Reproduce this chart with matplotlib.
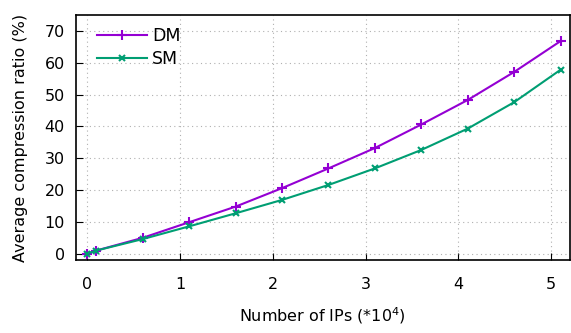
import matplotlib
matplotlib.use("Agg")
import matplotlib.pyplot as plt

# number of IPs (*10^4)
num_ips = [0, 0.1, 0.6, 1.1, 1.6, 2.1, 2.6, 3.1, 3.6, 4.1, 4.6, 5.1]
# average compression ratio (%)
dm_ratio = [0, 1, 5, 9.9, 14.8, 20.6, 26.8, 33.2, 40.6, 48.3, 57.1, 66.8]
sm_ratio = [0, 1, 4.6, 8.6, 12.7, 16.9, 21.6, 26.8, 32.6, 39.3, 47.6, 57.8]

xticks = [0, 1, 2, 3, 4, 5]
yticks = [0, 10, 20, 30, 40, 50, 60, 70]

plt.rcParams['font.size'] = 11.5

fig = plt.figure(figsize=(5.71, 3.33), dpi=100)
ax = fig.add_axes([0.133, 0.219, 0.865, 0.736])

ax.plot(num_ips, dm_ratio, color='#9400d3', marker='+', markersize=7,
        markeredgewidth=1.5, linewidth=1.5, label='DM')
ax.plot(num_ips, sm_ratio, color='#009e73', marker='x', markersize=5,
        markeredgewidth=1.5, linewidth=1.5, label='SM')

ax.set_xlim(-0.12, 5.2)
ax.set_ylim(-2, 75)
ax.set_xticks(xticks)
ax.set_yticks(yticks)
ax.tick_params(direction='in', length=5, top=False, right=False)
ax.tick_params(axis='x', pad=12)
ax.tick_params(axis='y', pad=8)
ax.grid(True, color='#b0b0b0', linestyle=(0, (1, 3)), linewidth=0.8)
for s in ax.spines.values():
    s.set_linewidth(1.2)

ax.set_xlabel('Number of IPs (*10$^{4}$)', labelpad=10)
ax.set_ylabel('Average compression ratio (%)', labelpad=12)

ax.legend(loc='upper left', bbox_to_anchor=(0.028, 0.98), frameon=False,
          handlelength=2.9, handletextpad=0.3, labelspacing=0.32,
          borderaxespad=0.0, fontsize=12.5)

fig.savefig('out.png', dpi=100)
